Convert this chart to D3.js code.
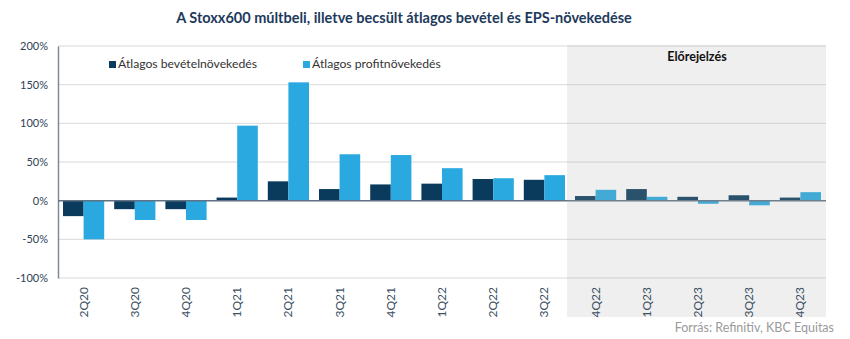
<!DOCTYPE html>
<html>
<head>
<meta charset="utf-8">
<script src="https://cdn.jsdelivr.net/npm/d3@7"></script>
<style>
  body { margin: 0; background: #fff; }
  svg text { font-family: Lato, "Open Sans", sans-serif; }
</style>
</head>
<body>
<div id="chart"></div>
<script>

// Data

var quarters = ['2Q20', '3Q20', '4Q20', '1Q21', '2Q21', '3Q21', '4Q21', '1Q22', '2Q22', '3Q22',
                '4Q22', '1Q23', '2Q23', '3Q23', '4Q23'];
var revenueGrowth = [-20, -11, -11, 4, 25, 15, 21, 22, 28, 27, 6, 15, 5, 7, 4];
var profitGrowth  = [-50, -25, -25, 97, 153, 60, 59, 42, 29, 33, 14, 5, -4, -6, 11];
var forecastQuarters = ['4Q22', '1Q23', '2Q23', '3Q23', '4Q23'];
var yTicks = [-100, -50, 0, 50, 100, 150, 200];
var seriesNames = ['Átlagos bevételnövekedés', 'Átlagos profitnövekedés'];

// Dimensions

var width = 850;
var height = 339;
var margin = { top: 46, right: 24, bottom: 61, left: 58 };
var colors = ['#0a3b5d', '#29a9e0'];

var svg = d3.select('#chart')
  .append('svg')
    .attr('width', width)
    .attr('height', height);

var xs = d3.scaleBand()
  .domain(quarters)
  .range([margin.left, width - margin.right]);

var x1 = d3.scaleBand()
  .domain([0, 1])
  .range([5, xs.bandwidth() - 5]);

var y = d3.scaleLinear()
  .domain([-100, 200])
  .range([height - margin.bottom, margin.top]);

// Gridlines

svg.append('g')
  .selectAll('line')
  .data(yTicks.filter(function (d) { return d !== 0; }))
  .join('line')
    .attr('x1', margin.left)
    .attr('x2', width - margin.right)
    .attr('y1', function (d) { return y(d); })
    .attr('y2', function (d) { return y(d); })
    .attr('stroke', '#d9d9d9')
    .attr('stroke-width', 1);

// Y axis

var yAxis = svg.append('g')
  .attr('transform', 'translate(' + margin.left + ',0)')
  .call(d3.axisLeft(y).tickValues(yTicks).tickSize(0).tickPadding(10)
    .tickFormat(function (d) { return d + '%'; }));
yAxis.select('.domain').attr('stroke', '#7b8b97').attr('stroke-width', 1.5);
yAxis.selectAll('text')
  .attr('fill', '#2e4155')
  .style('font-size', '11px');

// Bars

var groups = svg.append('g')
  .selectAll('g')
  .data(quarters)
  .join('g')
    .attr('transform', function (d) { return 'translate(' + xs(d) + ',0)'; });

groups.selectAll('rect')
  .data(function (d, i) { return [revenueGrowth[i], profitGrowth[i]]; })
  .join('rect')
    .attr('x', function (d, j) { return x1(j); })
    .attr('width', x1.bandwidth())
    .attr('y', function (d) { return y(Math.max(0, d)); })
    .attr('height', function (d) { return Math.abs(y(d) - y(0)); })
    .attr('fill', function (d, j) { return colors[j]; });

// Zero line

svg.append('line')
  .attr('x1', margin.left)
  .attr('x2', width - margin.right)
  .attr('y1', y(0))
  .attr('y2', y(0))
  .attr('stroke', '#5f7385')
  .attr('stroke-width', 1.5);

// Forecast overlay (greys the area and mutes the bars)

var fStart = xs(forecastQuarters[0]) - 3;
svg.append('rect')
  .attr('x', fStart)
  .attr('y', margin.top - 1)
  .attr('width', width - margin.right - fStart)
  .attr('height', 317 - margin.top + 1)
  .attr('fill', '#afafaf')
  .attr('fill-opacity', 0.2);

// X labels

svg.append('g')
  .selectAll('text')
  .data(quarters)
  .join('text')
    .attr('transform', function (d) {
      return 'translate(' + (xs(d) + xs.bandwidth() / 2 + 4) + ',' + (height - margin.bottom + 9) + ') rotate(-90)';
    })
    .attr('text-anchor', 'end')
    .attr('fill', '#3b5063')
    .style('font-size', '12px')
    .text(function (d) { return d; });

// Title

svg.append('text')
  .attr('x', 404)
  .attr('y', 23)
  .attr('text-anchor', 'middle')
  .attr('fill', '#1d3a5c')
  .style('font-size', '14.5px')
  .style('font-weight', 'bold')
  .text('A Stoxx600 múltbeli, illetve becsült átlagos bevétel és EPS-növekedése');

// Legend

var legendX = [109, 303];
var legend = svg.append('g')
  .selectAll('g')
  .data(seriesNames)
  .join('g')
    .attr('transform', function (d, i) { return 'translate(' + legendX[i] + ',61)'; });

legend.append('rect')
  .attr('width', 7)
  .attr('height', 7)
  .attr('fill', function (d, i) { return colors[i]; });

legend.append('text')
  .attr('x', 9)
  .attr('y', 7)
  .attr('fill', '#333')
  .style('font-size', '12.2px')
  .text(function (d) { return d; });

// Forecast label

svg.append('text')
  .attr('x', 697)
  .attr('y', 61)
  .attr('text-anchor', 'middle')
  .attr('fill', '#111')
  .style('font-size', '12.5px')
  .style('font-weight', 'bold')
  .text('Előrejelzés');

// Source

svg.append('text')
  .attr('x', 834)
  .attr('y', 332)
  .attr('text-anchor', 'end')
  .attr('fill', '#9a9a9a')
  .style('font-size', '12.5px')
  .text('Forrás: Refinitiv, KBC Equitas');

</script>
</body>
</html>
